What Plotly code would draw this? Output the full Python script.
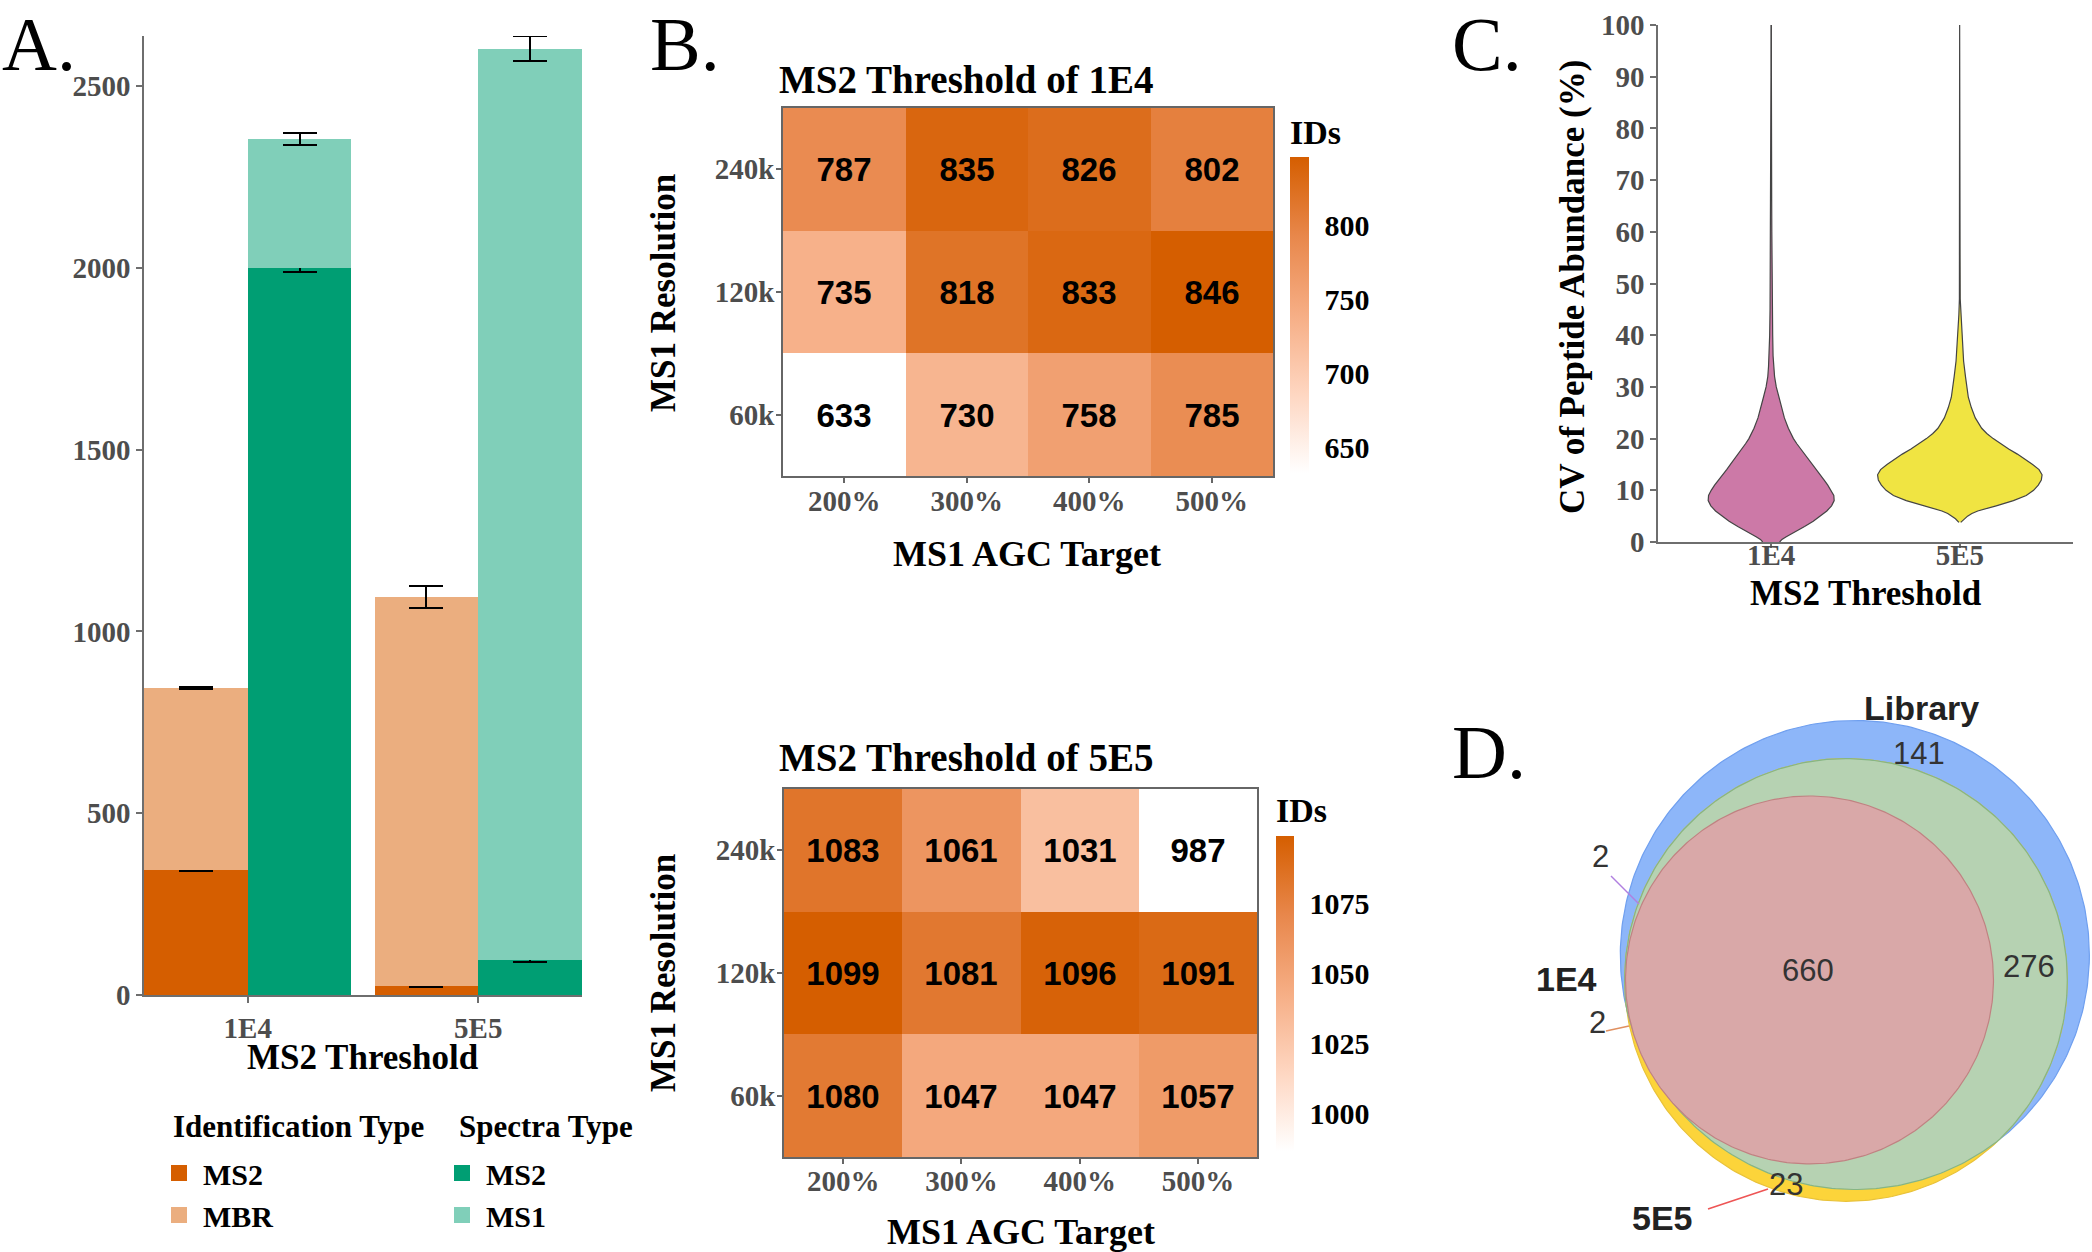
import numpy as np
import plotly.graph_objects as go

W, H = 2092, 1252
def fx(p): return p / W
def fy(p): return 1 - p / H

SERIF = "Liberation Serif, Times New Roman, serif"
SANS = "Liberation Sans, Arial, sans-serif"
GRAY_TXT = "#4D4D4D"
AXIS_C = "#6E6E6E"

# ---------------- Panel A data ----------------
thresholds = ["1E4", "5E5"]
id_ms2 = [345, 25]
id_ms2_err = [5, 3]
id_mbr = [500, 1070]
id_total_err = [3, 30]
spec_ms2 = [2000, 95]
spec_ms2_err = [12, 3]
spec_ms1 = [354, 2508]
spec_total_err = [17, 34]

# ---------------- Panel B data ----------------
agc_targets = ["200%", "300%", "400%", "500%"]
resolutions = ["60k", "120k", "240k"]
ids_1e4 = [[633, 730, 758, 785],
           [735, 818, 833, 846],
           [787, 835, 826, 802]]
ids_5e5 = [[1080, 1047, 1047, 1057],
           [1099, 1081, 1096, 1091],
           [1083, 1061, 1031, 987]]

# ---------------- Panel C data (violin outline) ----------------
cv_1e4 = [0, 0.5, 1, 2, 3, 4, 5, 6, 7, 8, 9, 10, 11, 12, 13, 14, 15, 16, 17, 18, 19, 20,
          22, 24, 26, 28, 30, 32, 34, 36, 40, 45, 50, 55, 60, 66, 70, 80, 90, 100]
halfwidth_1e4 = [0.045, 0.057, 0.080, 0.125, 0.177, 0.223, 0.261, 0.295, 0.320, 0.334,
                 0.332, 0.318, 0.300, 0.280, 0.259, 0.236, 0.216, 0.195, 0.175, 0.155,
                 0.136, 0.118, 0.091, 0.070, 0.055, 0.041, 0.027, 0.018, 0.014, 0.010,
                 0.008, 0.006, 0.0045, 0.004, 0.0034, 0.0027, 0.0018, 0.0014, 0.0011, 0.0009]
cv_5e5 = [3.8, 4.5, 5, 5.5, 6, 7, 8, 9, 10, 11, 12, 13, 14, 15, 16, 17, 18, 19, 20, 21, 22,
          24, 26, 28, 30, 32, 35, 38, 41, 44, 47, 55, 70, 85, 100]
halfwidth_5e5 = [0.005, 0.023, 0.041, 0.064, 0.095, 0.193, 0.284, 0.352, 0.391, 0.416,
                 0.432, 0.436, 0.420, 0.386, 0.348, 0.305, 0.259, 0.216, 0.177, 0.143,
                 0.116, 0.082, 0.061, 0.045, 0.036, 0.030, 0.020, 0.015, 0.009, 0.005,
                 0.0022, 0.0014, 0.0012, 0.0010, 0.0009]

# ---------------- Panel D data ----------------
only_library = 141
library_and_5e5 = 276
all_three = 660
library_and_1e4 = 2
e4_and_5e5 = 2
only_5e5 = 23
size_library = only_library + library_and_5e5 + all_three + library_and_1e4
size_5e5 = only_5e5 + library_and_5e5 + all_three + e4_and_5e5
size_1e4 = all_three + library_and_1e4 + e4_and_5e5

# colours
C_ID_MS2 = "#D55E00"
C_MBR = "#EBAE7F"
C_SP_MS2 = "#009E73"
C_SP_MS1 = "#80CFB9"

fig = go.Figure()

# ---------------- Panel A: grouped stacked bars ----------------
idx = np.arange(len(thresholds))
BW = 0.45
x_id = idx - BW / 2
x_sp = idx + BW / 2

def err(arr):
    return dict(type="data", array=arr, color="black", thickness=2, width=17)

fig.add_trace(go.Bar(x=x_id, y=id_ms2, width=BW, marker_color=C_ID_MS2, marker_line_width=0,
                     error_y=err(id_ms2_err), showlegend=False, xaxis="x", yaxis="y"))
fig.add_trace(go.Bar(x=x_id, y=id_mbr, width=BW, marker_color=C_MBR, marker_line_width=0,
                     error_y=err(id_total_err), showlegend=False, xaxis="x", yaxis="y"))
fig.add_trace(go.Bar(x=x_sp, y=spec_ms2, width=BW, marker_color=C_SP_MS2, marker_line_width=0,
                     error_y=err(spec_ms2_err), showlegend=False, xaxis="x", yaxis="y"))
fig.add_trace(go.Bar(x=x_sp, y=spec_ms1, width=BW, marker_color=C_SP_MS1, marker_line_width=0,
                     error_y=err(spec_total_err), showlegend=False, xaxis="x", yaxis="y"))

# legend entries
for name, col, lg in [("MS2", C_ID_MS2, "legend"), ("MBR", C_MBR, "legend"),
                      ("MS2", C_SP_MS2, "legend2"), ("MS1", C_SP_MS1, "legend2")]:
    fig.add_trace(go.Scatter(x=[None], y=[None], mode="markers", name=name, legend=lg,
                             marker=dict(symbol="square", size=16, color=col, line_width=0),
                             xaxis="x", yaxis="y"))

# ---------------- Panel B: heatmaps ----------------
cscale = [[0, "#FFFFFF"], [0.25, "rgb(254,214,193)"], [0.5, "rgb(246,174,133)"],
          [0.75, "rgb(232,135,75)"], [1, "#D55E00"]]
cb_title_font = dict(family=SERIF, size=34, color="black", weight="bold")
cb_tick_font = dict(family=SERIF, size=30, color="black", weight="bold")
cell_font = dict(family=SANS, size=33, color="black", weight="bold")

fig.add_trace(go.Heatmap(
    z=ids_1e4, x=agc_targets, y=resolutions, colorscale=cscale,
    texttemplate="%{z}", textfont=cell_font, xaxis="x2", yaxis="y2",
    colorbar=dict(title=dict(text="IDs", side="top", font=cb_title_font),
                  x=fx(1290), xanchor="left", xpad=0, ypad=0,
                  y=fy(294), yanchor="middle", len=358, lenmode="pixels",
                  thickness=19, thicknessmode="pixels", outlinewidth=0,
                  tickvals=[650, 700, 750, 800], ticks="outside", ticklen=10,
                  tickcolor="rgba(255,255,255,0)", tickfont=cb_tick_font)))

fig.add_trace(go.Heatmap(
    z=ids_5e5, x=agc_targets, y=resolutions, colorscale=cscale,
    texttemplate="%{z}", textfont=cell_font, xaxis="x3", yaxis="y3",
    colorbar=dict(title=dict(text="IDs", side="top", font=cb_title_font),
                  x=fx(1276), xanchor="left", xpad=0, ypad=0,
                  y=fy(972), yanchor="middle", len=357, lenmode="pixels",
                  thickness=18, thicknessmode="pixels", outlinewidth=0,
                  tickvals=[1000, 1025, 1050, 1075], ticks="outside", ticklen=10,
                  tickcolor="rgba(255,255,255,0)", tickfont=cb_tick_font)))

# ---------------- Panel C: violins from read outline ----------------
for i, (cv, hw, col) in enumerate([(cv_1e4, halfwidth_1e4, "#CC79A7"),
                                   (cv_5e5, halfwidth_5e5, "#F0E442")]):
    cv = np.array(cv, dtype=float)
    hw = np.array(hw, dtype=float)
    xs = np.concatenate([i + hw, (i - hw)[::-1]])
    ys = np.concatenate([cv, cv[::-1]])
    fig.add_trace(go.Scatter(x=xs, y=ys, fill="toself", fillcolor=col, mode="lines",
                             line=dict(color="#444444", width=1.2), showlegend=False,
                             xaxis="x4", yaxis="y4"))

# ---------------- Panel D: Euler diagram ----------------
PXU = 7.14  # pixels per sqrt-count unit
r_lib = np.sqrt(size_library)
r_5e5 = np.sqrt(size_5e5)
r_1e4 = np.sqrt(size_1e4)
c_lib = (60.9, 41.6)
c_5e5 = (59.66, 38.1)
c_1e4 = (54.55, 38.1)
th = np.linspace(0, 2 * np.pi, 361)

def circ(c, r):
    return c[0] + r * np.cos(th), c[1] + r * np.sin(th)

bx, by = circ(c_lib, r_lib)
yx, yy = circ(c_5e5, r_5e5)
# intersection of library and 5E5 circles: clip 5E5 circle to inside library
dx, dy = yx - c_lib[0], yy - c_lib[1]
d = np.hypot(dx, dy)
scale = np.minimum(1.0, r_lib / d)
gx, gy = c_lib[0] + dx * scale, c_lib[1] + dy * scale
rx, ry = circ(c_1e4, r_1e4)

for xs, ys, fc, lc in [(bx, by, "#8DB6F9", "#6F9FEF"), (yx, yy, "#FCD43A", "#E9C23A"),
                       (gx, gy, "#B6D2B2", "#86B584"), (rx, ry, "#D9A8A8", "#C08282")]:
    fig.add_trace(go.Scatter(x=xs, y=ys, fill="toself", fillcolor=fc, mode="lines",
                             line=dict(color=lc, width=1.2), showlegend=False,
                             xaxis="x5", yaxis="y5"))

# ---------------- Layout ----------------
tick_font = dict(family=SERIF, size=29, color=GRAY_TXT, weight="bold")
common_ax = dict(showgrid=False, zeroline=False, showline=True, linecolor=AXIS_C,
                 linewidth=1.5, ticks="outside", ticklen=6, tickcolor=AXIS_C,
                 tickwidth=1.5, tickfont=tick_font, automargin=False)
heat_ax = dict(type="category", showgrid=False, zeroline=False, showline=True, mirror=True,
               linecolor="#666666", linewidth=1.5, ticks="outside", ticklen=5,
               tickcolor="#666666", tickwidth=1.5, tickfont=tick_font, automargin=False)

d_w = (W - 1420) / PXU
d_h = (H - 690) / PXU

leg_common = dict(xanchor="left", yanchor="top", itemwidth=38,
                  font=dict(family=SERIF, size=30, color="black", weight="bold"),
                  bgcolor="rgba(0,0,0,0)", itemsizing="trace", tracegroupgap=0,
                  traceorder="normal")

fig.update_layout(
    template="none",
    width=W, height=H, margin=dict(l=0, r=0, t=0, b=0, autoexpand=False),
    paper_bgcolor="white", plot_bgcolor="white", barmode="stack",
    xaxis=dict(domain=[fx(144), fx(582)], range=[-0.45, 1.45], tickvals=list(idx),
               ticktext=thresholds, anchor="y", **common_ax),
    yaxis=dict(domain=[fy(995), fy(36)], range=[0, 2638],
               tickvals=[0, 500, 1000, 1500, 2000, 2500], anchor="x", **common_ax),
    xaxis2=dict(domain=[fx(783), fx(1273)], anchor="y2", ticklabelstandoff=-7, **heat_ax),
    yaxis2=dict(domain=[fy(476), fy(108)], anchor="x2", ticklabelstandoff=-4, **heat_ax),
    xaxis3=dict(domain=[fx(784), fx(1257)], anchor="y3", ticklabelstandoff=-8, **heat_ax),
    yaxis3=dict(domain=[fy(1157), fy(789)], anchor="x3", ticklabelstandoff=-4, **heat_ax),
    xaxis4=dict(domain=[fx(1658), fx(2073)], range=[-0.6, 1.6], tickvals=[0, 1],
                ticktext=thresholds, anchor="y4", ticklabelstandoff=-18,
                **{**common_ax, "ticklen": 4}),
    yaxis4=dict(domain=[fy(542), fy(25)], range=[0, 100], tickvals=list(range(0, 101, 10)),
                anchor="x4", **common_ax),
    xaxis5=dict(domain=[fx(1420), 1.0], range=[0, d_w], visible=False, anchor="y5",
                automargin=False),
    yaxis5=dict(domain=[0, fy(690)], range=[0, d_h], visible=False, anchor="x5",
                scaleanchor="x5", scaleratio=1, automargin=False),
    legend=dict(x=fx(155), y=fy(1147), **leg_common),
    legend2=dict(x=fx(438), y=fy(1147), **leg_common),
)

ann = []
def add_text(text, x, y, size, family=SERIF, bold=True, color="black", xanchor="center",
             textangle=0, yanchor="middle"):
    ann.append(dict(text=text, x=fx(x), y=fy(y), xref="paper", yref="paper",
                    showarrow=False, xanchor=xanchor, yanchor=yanchor, textangle=textangle,
                    font=dict(family=family, size=size, color=color,
                              weight="bold" if bold else "normal")))

# panel letters
add_text("A.", 0, 0, 76, bold=False, xanchor="left", yanchor="top")
add_text("B.", 648, 0, 76, bold=False, xanchor="left", yanchor="top")
add_text("C.", 1450, 0, 76, bold=False, xanchor="left", yanchor="top")
add_text("D.", 1450, 752, 76, bold=False, xanchor="left")
# panel A
add_text("MS2 Threshold", 363, 1057, 35)
add_text("Identification Type", 171, 1126, 31, xanchor="left")
add_text("Spectra Type", 457, 1126, 31, xanchor="left")
# panel B
add_text("MS2 Threshold of 1E4", 777, 80, 39, xanchor="left")
add_text("MS1 Resolution", 663, 293, 35, textangle=-90)
add_text("MS1 AGC Target", 1027, 554, 36)
add_text("MS2 Threshold of 5E5", 777, 757, 39, xanchor="left")
add_text("MS1 Resolution", 663, 973, 35, textangle=-90)
add_text("MS1 AGC Target", 1021, 1232, 36)
# panel C
add_text("CV of Peptide Abundance (%)", 1572, 287, 35, textangle=-90)
add_text("MS2 Threshold", 1866, 593, 35)
# panel D
NUM_C = "#333333"
add_text("Library", 1921, 708, 34, family=SANS, color="#222222")
add_text(str(only_library), 1919, 753, 31, family=SANS, bold=False, color=NUM_C)
add_text(str(library_and_5e5), 2029, 966, 31, family=SANS, bold=False, color=NUM_C)
add_text(str(all_three), 1808, 970, 31, family=SANS, bold=False, color=NUM_C)
add_text(str(library_and_1e4), 1600, 856, 31, family=SANS, bold=False, color=NUM_C)
add_text("1E4", 1566, 979, 34, family=SANS, color="#222222")
add_text(str(e4_and_5e5), 1597, 1022, 31, family=SANS, bold=False, color=NUM_C)
add_text(str(only_5e5), 1786, 1184, 31, family=SANS, bold=False, color=NUM_C)
add_text("5E5", 1662, 1218, 34, family=SANS, color="#222222")

shapes = []
for (x0, y0, x1, y1, col) in [(1611, 876, 1639, 904, "#B07FE0"),
                              (1606, 1031, 1629, 1026, "#E09060"),
                              (1708, 1209, 1768, 1189, "#EE5555")]:
    shapes.append(dict(type="line", xref="paper", yref="paper", x0=fx(x0), y0=fy(y0),
                       x1=fx(x1), y1=fy(y1), line=dict(color=col, width=1.5)))

fig.update_layout(annotations=ann, shapes=shapes)

fig.write_html("out.html", config={"displayModeBar": False},
               post_script="document.body.style.margin='0px';")
